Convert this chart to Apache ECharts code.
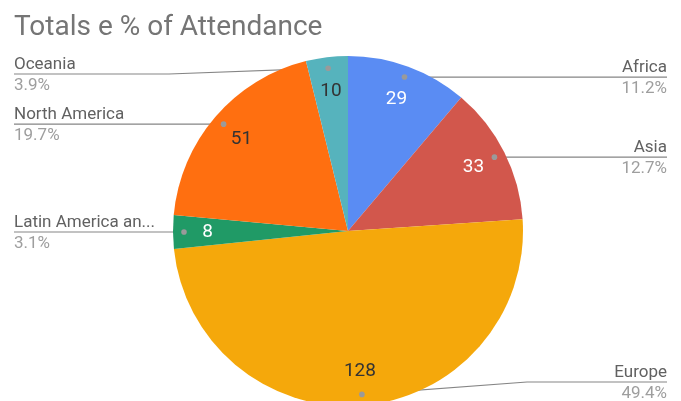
<!DOCTYPE html>
<html>
<head>
<meta charset="utf-8">
<script src="https://cdn.jsdelivr.net/npm/echarts@6/dist/echarts.min.js"></script>
<style>
  html, body { margin: 0; padding: 0; background: #fff; }
  #main { width: 681px; height: 401px; }
</style>
</head>
<body>
<div id="main"></div>
<script>
// 数据
var regions = ['Africa', 'Asia', 'Europe', 'Latin America and the Caribbean', 'North America', 'Oceania'];
var attendance = [29, 33, 128, 8, 51, 10];
var colors = ['#5a8cf3', '#d2574c', '#f5a80b', '#209a66', '#ff6f10', '#56b3bd'];
var valueColors = ['#ffffff', '#ffffff', '#333333', '#ffffff', '#333333', '#333333'];

var W = 681, H = 401;
var cx = 348, cy = 231, R = 175;
var total = attendance.reduce(function (a, b) { return a + b; }, 0);

// 每个扇区中间角度上的小圆点位置（从顶部顺时针）
function dotPos(i) {
  var before = 0;
  for (var k = 0; k < i; k++) before += attendance[k];
  var ang = (before + attendance[i] / 2) / total * Math.PI * 2;
  var r = R - 11;
  return [cx + r * Math.sin(ang), cy - r * Math.cos(ang)];
}

var pieData = regions.map(function (name, i) {
  return { name: name, value: attendance[i], itemStyle: { color: colors[i] } };
});

var myChart = echarts.init(document.getElementById('main'), null, { renderer: 'canvas' });

myChart.setOption({
  animation: false,
  title: {
    text: 'Totals e % of Attendance',
    left: 14,
    top: 14,
    padding: 0,
    textStyle: { fontFamily: 'Roboto', fontSize: 28, fontWeight: 'normal', color: '#757575' }
  },
  series: [
    {
      // 主饼图 + 外部标签
      type: 'pie',
      center: [cx, cy],
      radius: R,
      startAngle: 90,
      clockwise: true,
      percentPrecision: 1,
      silent: true,
      data: pieData,
      itemStyle: { borderWidth: 0 },
      label: {
        show: true,
        position: 'outside',
        overflow: 'none',
        fontFamily: 'Roboto',
        formatter: function (p) {
          var name = echarts.format.truncateText(p.name, 146, '17px Roboto', '...');
          return '{n|' + name + '}\n{p|' + p.percent.toFixed(1) + '%}';
        },
        rich: {
          n: { fontFamily: 'Roboto', fontSize: 17, color: '#616161', lineHeight: 19 },
          p: { fontFamily: 'Roboto', fontSize: 17, color: '#9e9e9e', lineHeight: 23 }
        }
      },
      labelLine: {
        show: true,
        length: 10,
        length2: 10,
        lineStyle: { color: '#858585', width: 1.2 }
      },
      labelLayout: function (params) {
        var i = params.dataIndex;
        var d = dotPos(i);
        var lineY = Math.min(Math.max(d[1], 74), 382);
        var left = d[0] < cx;
        var endX = left ? 14 : W - 14;
        var bendX = left ? cx - R - 4 : cx + R + 4;
        if (Math.abs(lineY - d[1]) < 0.5) bendX = d[0];
        return {
          x: endX,
          y: lineY - 19,
          align: left ? 'left' : 'right',
          verticalAlign: 'top',
          labelLinePoints: [d, [bendX, lineY], [endX, lineY]]
        };
      }
    },
    {
      // 扇区内部数值
      type: 'pie',
      center: [cx, cy],
      radius: [100, R],
      startAngle: 90,
      clockwise: true,
      silent: true,
      data: regions.map(function (name, i) {
        return {
          name: name, value: attendance[i],
          label: { color: valueColors[i] }
        };
      }),
      itemStyle: { color: 'rgba(0,0,0,0)' },
      label: {
        show: true,
        position: 'inside',
        formatter: '{c}',
        fontFamily: 'Roboto',
        fontSize: 19
      },
      labelLine: { show: false }
    },
    {
      // 引导线起点的小圆点
      type: 'custom',
      coordinateSystem: 'none',
      silent: true,
      z: 10,
      data: attendance,
      renderItem: function (params, api) {
        var d = dotPos(params.dataIndex);
        return {
          type: 'circle',
          shape: { cx: d[0], cy: d[1], r: 2.8 },
          style: { fill: '#9a9a9a' }
        };
      }
    }
  ]
});
</script>
</body>
</html>
